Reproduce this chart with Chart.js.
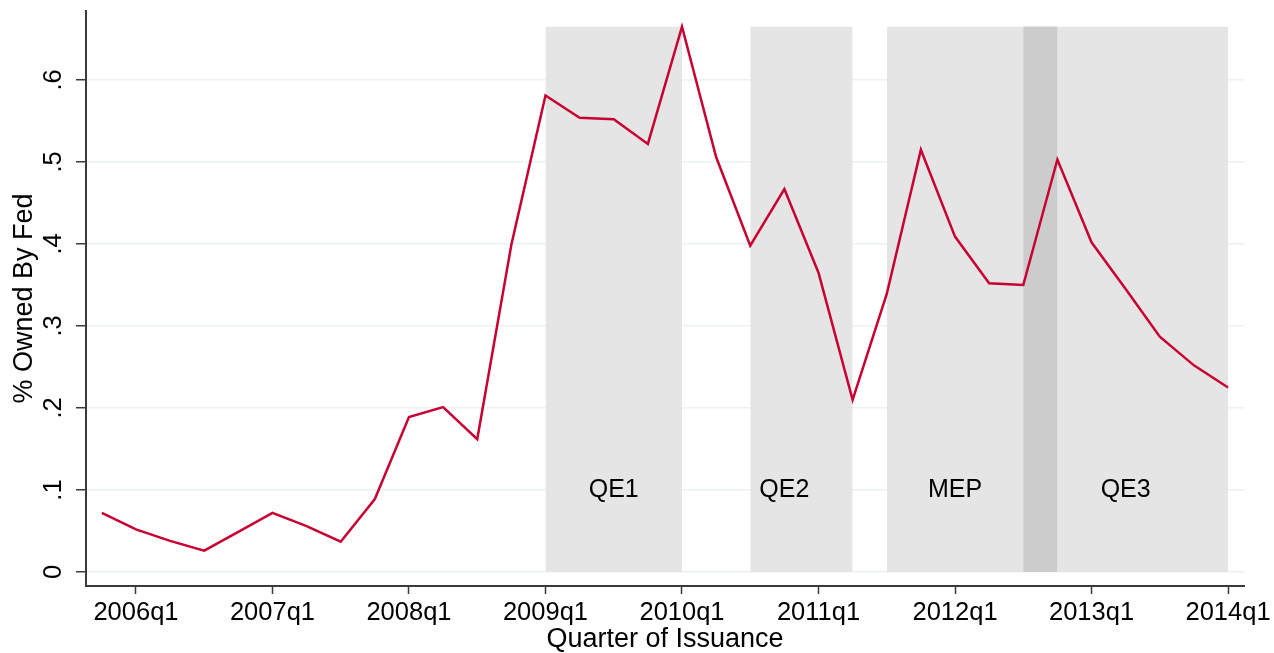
<!DOCTYPE html>
<html>
<head>
<meta charset="utf-8">
<script src="https://cdn.jsdelivr.net/npm/chart.js@4"></script>
<style>
  html, body { margin: 0; padding: 0; background: #fff; }
  #wrap { width: 1274px; height: 653px; }
</style>
</head>
<body>
<div id="wrap"><canvas id="fed-chart"></canvas></div>
<script>
const quarters = [
  "2005q4",
  "2006q1", "2006q2", "2006q3", "2006q4",
  "2007q1", "2007q2", "2007q3", "2007q4",
  "2008q1", "2008q2", "2008q3", "2008q4",
  "2009q1", "2009q2", "2009q3", "2009q4",
  "2010q1", "2010q2", "2010q3", "2010q4",
  "2011q1", "2011q2", "2011q3", "2011q4",
  "2012q1", "2012q2", "2012q3", "2012q4",
  "2013q1", "2013q2", "2013q3", "2013q4",
  "2014q1",
];
const ownedByFed = [
  0.072,
  0.052, 0.038, 0.026, 0.049,
  0.072, 0.056, 0.037, 0.089,
  0.189, 0.201, 0.162, 0.399,
  0.581, 0.554, 0.552, 0.522,
  0.665, 0.506, 0.398, 0.467,
  0.365, 0.210, 0.339, 0.515,
  0.409, 0.352, 0.350, 0.503,
  0.402, 0.345, 0.287, 0.252,
  0.225,
];

// policy programme shading
const bandNames = ["QE1", "QE2", "MEP", "QE3"];
const bandStart = ["2009q1", "2010q3", "2011q3", "2012q3"];
const bandEnd = ["2010q1", "2011q2", "2012q4", "2014q1"];
const bandLabelAt = ["2009q3", "2010q4", "2012q1", "2013q2"];
const bandTop = 0.665;
const bandLabelY = 0.1;

const xTicks = ["2006q1", "2007q1", "2008q1", "2009q1", "2010q1", "2011q1", "2012q1", "2013q1", "2014q1"];
const yTicks = [0, 0.1, 0.2, 0.3, 0.4, 0.5, 0.6];
const yTickLabels = ["0", ".1", ".2", ".3", ".4", ".5", ".6"];

// "2009q3" -> 2009.5
function qToNum(q) {
  const [y, n] = q.split("q");
  return Number(y) + (Number(n) - 1) / 4;
}

const FONT = "'Liberation Sans', Arial, Helvetica, sans-serif";
const AXIS = "#3a3a3a";

const bandSets = bandNames.map((name, i) => ({
  label: name,
  data: [
    { x: qToNum(bandStart[i]), y: bandTop },
    { x: qToNum(bandEnd[i]), y: bandTop },
  ],
  fill: "origin",
  backgroundColor: "#e5e5e5",
  borderWidth: 0,
  pointRadius: 0,
  order: 3,
}));

// where two programmes overlap the shading is darker
const overlapSets = [];
for (let i = 0; i < bandNames.length - 1; i++) {
  const s = Math.max(qToNum(bandStart[i]), qToNum(bandStart[i + 1]));
  const e = Math.min(qToNum(bandEnd[i]), qToNum(bandEnd[i + 1]));
  if (s < e) {
    overlapSets.push({
      label: bandNames[i] + "/" + bandNames[i + 1],
      data: [{ x: s, y: bandTop }, { x: e, y: bandTop }],
      fill: "origin",
      backgroundColor: "#cccccc",
      borderWidth: 0,
      pointRadius: 0,
      order: 2,
    });
  }
}

const bandLabels = {
  id: "bandLabels",
  afterDatasetsDraw(chart) {
    const { ctx, scales } = chart;
    ctx.save();
    ctx.font = "25px " + FONT;
    ctx.fillStyle = "#000";
    ctx.textAlign = "center";
    ctx.textBaseline = "middle";
    bandNames.forEach((name, i) => {
      ctx.fillText(name, scales.x.getPixelForValue(qToNum(bandLabelAt[i])), scales.y.getPixelForValue(bandLabelY));
    });
    ctx.restore();
  },
};

new Chart(document.getElementById("fed-chart"), {
  type: "line",
  data: {
    datasets: [
      ...bandSets,
      ...overlapSets,
      {
        label: "% Owned By Fed",
        data: quarters.map((q, i) => ({ x: qToNum(q), y: ownedByFed[i] })),
        borderColor: "#c80032",
        borderWidth: 2.5,
        pointRadius: 0,
        fill: false,
        tension: 0,
        order: 0,
      },
    ],
  },
  options: {
    responsive: true,
    maintainAspectRatio: false,
    animation: false,
    layout: { padding: { top: 11, right: 30, left: 0, bottom: 0 } },
    scales: {
      x: {
        type: "linear",
        min: 2005.634,
        max: 2014.117,
        afterBuildTicks: (scale) => {
          scale.ticks = xTicks.map((q) => ({ value: qToNum(q) }));
        },
        afterFit: (scale) => {
          scale.height = 67;
          scale.paddingLeft = 0;
          scale.paddingRight = 0;
        },
        ticks: {
          autoSkip: false,
          maxRotation: 0,
          padding: 4,
          color: "#000",
          font: { family: FONT, size: 25.5 },
          callback: (v, i) => xTicks[i],
        },
        grid: {
          drawOnChartArea: false,
          drawTicks: true,
          tickLength: 8,
          tickColor: AXIS,
          tickWidth: 1.5,
        },
        border: { color: AXIS, width: 2 },
        title: {
          display: true,
          text: "Quarter of Issuance",
          color: "#000",
          font: { family: FONT, size: 27, lineHeight: 1 },
          padding: { top: 0, bottom: 0 },
        },
      },
      y: {
        min: -0.01707,
        max: 0.6841,
        afterBuildTicks: (scale) => {
          scale.ticks = yTicks.map((v) => ({ value: v }));
        },
        afterFit: (scale) => {
          scale.width = 86;
          scale.paddingTop = 0;
          scale.paddingBottom = 0;
        },
        ticks: {
          minRotation: 90,
          maxRotation: 90,
          crossAlign: "center",
          padding: 11,
          color: "#000",
          font: { family: FONT, size: 25.5 },
          callback: (v, i) => yTickLabels[i],
        },
        grid: {
          color: "#eaf2f3",
          lineWidth: 1.5,
          tickLength: 10,
          tickColor: AXIS,
          tickWidth: 1.5,
        },
        border: { color: AXIS, width: 2 },
        title: {
          display: true,
          text: "% Owned By Fed",
          color: "#000",
          font: { family: FONT, size: 27 },
          padding: { top: 8, bottom: 0 },
        },
      },
    },
    plugins: {
      legend: { display: false },
      tooltip: { enabled: false },
    },
  },
  plugins: [bandLabels],
});
</script>
</body>
</html>
